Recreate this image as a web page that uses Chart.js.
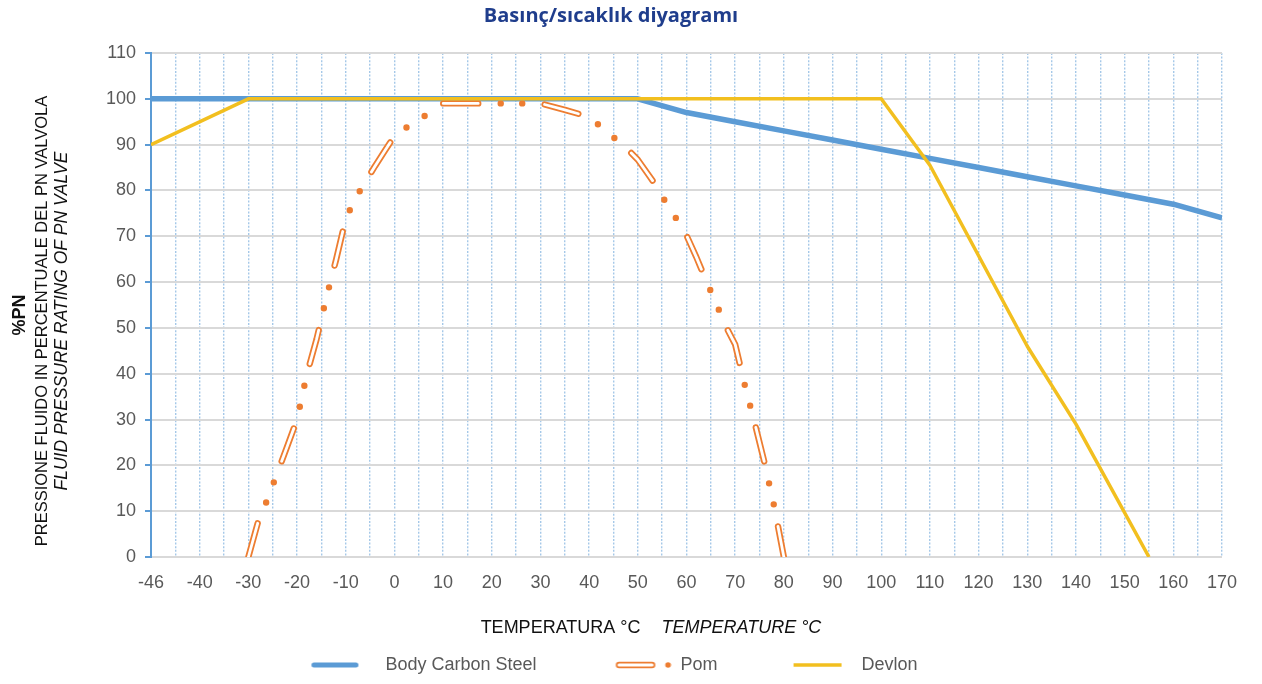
<!DOCTYPE html>
<html>
<head>
<meta charset="utf-8">
<script src="https://cdn.jsdelivr.net/npm/chart.js@4.4.1/dist/chart.umd.min.js"></script>
<style>
  html, body { margin: 0; padding: 0; background: #ffffff; }
  #wrap { width: 1262px; height: 684px; position: relative; }
</style>
</head>
<body>
<div id="wrap"><canvas id="chart" width="1262" height="684"></canvas></div>
<script>
// ---------- texts ----------
const chartTitle = 'Basınç/sıcaklık diyagramı';
const yTitleLines = ['%PN', 'PRESSIONE FLUIDO IN PERCENTUALE DEL PN VALVOLA', 'FLUID PRESSURE RATING OF PN VALVE'];
const xTitleParts = ['TEMPERATURA °C', 'TEMPERATURE °C'];
const seriesNames = ['Body Carbon Steel', 'Pom', 'Devlon'];

// ---------- tick labels ----------
// x labels are spaced every 10 °C; the first one ("-46") sits one step left of -40
const xTickLabels = ['-46', '-40', '-30', '-20', '-10', '0', '10', '20', '30', '40', '50', '60', '70', '80',
                     '90', '100', '110', '120', '130', '140', '150', '160', '170'];
const yTickLabels = ['0', '10', '20', '30', '40', '50', '60', '70', '80', '90', '100', '110'];

// ---------- series ----------
const steelTemp = [-46, 50, 60, 70, 80, 90, 100, 110, 120, 130, 140, 150, 160, 170];
const steelPN   = [100, 100, 97, 95, 93, 91, 89, 87, 85, 83, 81, 79, 77, 74];

const pomTemp = [-30, -28, -26, -24, -22, -20, -18, -16, -14, -12, -10, -8, -6, -4, -2, 0, 2, 4, 6, 8, 10,
                 20, 30, 35, 39.5, 42, 44, 46, 48, 50, 52, 54, 56, 58, 60, 62, 64, 66, 68, 70, 72, 74, 76, 78, 80];
const pomPN   = [0, 7.7, 12.8, 18.5, 24.2, 30, 39.8, 47.5, 56.5, 64.8, 73.8, 78.3, 81.8, 85.3, 88.6, 91.9, 93.4, 94.8, 96.1, 97.6, 99,
                 99, 99, 97.6, 96.2, 94.3, 92.5, 90.7, 88.9, 86.7, 83.7, 80.7, 76.9, 73.7, 70.2, 65.5, 60.4, 55.6, 50.5, 46.4, 37.4, 29.3, 20.7, 11.1, 0];

const devlonTemp = [-46, -30, 100, 110, 130, 140, 155];
const devlonPN   = [90, 100, 100, 85.5, 46, 29, 0];

// ---------- styling ----------
const STEEL = '#5b9bd5';
const POM = '#ed7d31';
const DEVLON = '#f2bf1f';
const TEXT_GRAY = '#595959';
const FONT = 'Liberation Sans';

const X_START = -50;   // axis position of the first label ("-46")
const X_END = 170;
const axisX = t => (t === -46 ? X_START : t);
const toPoints = (xs, ys) => xs.map((x, i) => ({ x: axisX(x), y: ys[i] }));

// ---------- legend swatches ----------
const SW = 72;
function swatch(draw) {
  const c = document.createElement('canvas');
  c.width = SW; c.height = 12;
  const g = c.getContext('2d');
  draw(g);
  return c;
}
const steelSwatch = swatch(g => {
  g.strokeStyle = STEEL; g.lineWidth = 5; g.lineCap = 'round';
  g.beginPath(); g.moveTo(9.5, 6); g.lineTo(51.5, 6); g.stroke();
});
const pomSwatch = swatch(g => {
  g.lineCap = 'round';
  g.strokeStyle = POM; g.lineWidth = 6.5;
  g.beginPath(); g.moveTo(19.5, 6); g.lineTo(52.5, 6); g.stroke();
  g.strokeStyle = '#ffffff'; g.lineWidth = 3;
  g.beginPath(); g.moveTo(19.5, 6); g.lineTo(52.5, 6); g.stroke();
  g.fillStyle = POM;
  g.beginPath(); g.arc(68.5, 6, 2.8, 0, Math.PI * 2); g.fill();
});
const devlonSwatch = swatch(g => {
  g.strokeStyle = DEVLON; g.lineWidth = 3.5; g.lineCap = 'butt';
  g.beginPath(); g.moveTo(13, 6); g.lineTo(61, 6); g.stroke();
});

// ---------- axis titles plugin ----------
const axisTitles = {
  id: 'axisTitles',
  afterDraw(chart) {
    const { ctx } = chart;
    ctx.save();
    ctx.fillStyle = '#111111';
    ctx.textAlign = 'center';
    ctx.textBaseline = 'middle';
    // vertical title
    const yFonts = ['bold 18px "' + FONT + '"', '16.5px "' + FONT + '"', 'italic 17.5px "' + FONT + '"'];
    const yCols = [20, 42, 62];
    const yCenters = [315, 321, 321];
    yTitleLines.forEach((t, i) => {
      ctx.save();
      ctx.translate(yCols[i], yCenters[i]);
      ctx.rotate(-Math.PI / 2);
      ctx.font = yFonts[i];
      ctx.fillText(t, 0, 0);
      ctx.restore();
    });
    // horizontal title (regular + italic)
    const f1 = '18px "' + FONT + '"', f2 = 'italic 18px "' + FONT + '"';
    ctx.font = f1; const w1 = ctx.measureText(xTitleParts[0]).width;
    ctx.font = f2; const w2 = ctx.measureText(xTitleParts[1]).width;
    const gap = 21;
    const cx = 651, cy = 628;
    const x0 = cx - (w1 + gap + w2) / 2;
    ctx.textAlign = 'left';
    ctx.font = f1; ctx.fillText(xTitleParts[0], x0, cy);
    ctx.font = f2; ctx.fillText(xTitleParts[1], x0 + w1 + gap, cy);
    ctx.restore();
  }
};

Chart.defaults.font.family = FONT;

new Chart(document.getElementById('chart'), {
  type: 'line',
  data: {
    datasets: [
      { label: seriesNames[2], data: toPoints(devlonTemp, devlonPN), order: 0,
        borderColor: DEVLON, borderWidth: 3.5, pointRadius: 0, fill: false, tension: 0,
        borderJoinStyle: 'round' },
      { label: seriesNames[1] + ' inner', data: toPoints(pomTemp, pomPN), order: 1,
        borderColor: '#ffffff', borderWidth: 2.8, pointRadius: 0, fill: false, tension: 0,
        borderDash: [35, 66.5], borderCapStyle: 'round', borderJoinStyle: 'round' },
      { label: seriesNames[1], data: toPoints(pomTemp, pomPN), order: 2,
        borderColor: POM, borderWidth: 6.4, pointRadius: 0, fill: false, tension: 0,
        borderDash: [35, 22.5, 0, 21.5, 0, 22.5], borderCapStyle: 'round', borderJoinStyle: 'round' },
      { label: seriesNames[0], data: toPoints(steelTemp, steelPN), order: 3,
        borderColor: STEEL, borderWidth: 5.5, pointRadius: 0, fill: false, tension: 0,
        borderJoinStyle: 'round' }
    ]
  },
  options: {
    responsive: false,
    animation: false,
    events: [],
    layout: { padding: { left: 0, right: 40, top: 0, bottom: 0 } },
    scales: {
      x: {
        type: 'linear',
        min: X_START,
        max: X_END,
        afterFit(scale) { scale.height = 36; },
        ticks: {
          stepSize: 5,
          autoSkip: false,
          maxRotation: 0,
          padding: 15,
          color: TEXT_GRAY,
          font: { size: 18 },
          callback(v) {
            const i = Math.round((v - X_START) / 10);
            if (Math.abs(v - X_START - i * 10) > 1e-6) return '';
            return xTickLabels[i];
          }
        },
        grid: { color: 'rgba(91,155,213,0.55)', lineWidth: 1.4, drawTicks: false },
        border: { display: false, dash: [2, 1.6] }
      },
      y: {
        type: 'linear',
        min: 0,
        max: 110,
        afterFit(scale) { scale.width = 151; },
        ticks: {
          stepSize: 10,
          padding: 9,
          color: TEXT_GRAY,
          font: { size: 18 },
          callback(v) { return yTickLabels[Math.round(v / 10)]; }
        },
        grid: { color: '#d9d9d9', lineWidth: 2, tickColor: STEEL, tickLength: 6, tickWidth: 2 },
        border: { display: true, color: STEEL, width: 2 }
      }
    },
    plugins: {
      title: {
        display: true,
        text: chartTitle,
        color: '#1f3d8c',
        font: { family: 'Open Sans', size: 20, weight: 'bold' },
        padding: { top: 4, bottom: 25 }
      },
      legend: {
        position: 'bottom',
        onClick: null,
        labels: {
          usePointStyle: true,
          pointStyleWidth: SW,
          padding: 63,
          color: TEXT_GRAY,
          font: { size: 18 },
          generateLabels() {
            const sw = [steelSwatch, pomSwatch, devlonSwatch];
            return seriesNames.map((name, i) => ({
              text: name, pointStyle: sw[i], fillStyle: 'rgba(0,0,0,0)', strokeStyle: 'rgba(0,0,0,0)',
              lineWidth: 0, hidden: false, fontColor: TEXT_GRAY, datasetIndex: i
            }));
          }
        }
      },
      tooltip: { enabled: false }
    }
  },
  plugins: [axisTitles]
});
</script>
</body>
</html>
